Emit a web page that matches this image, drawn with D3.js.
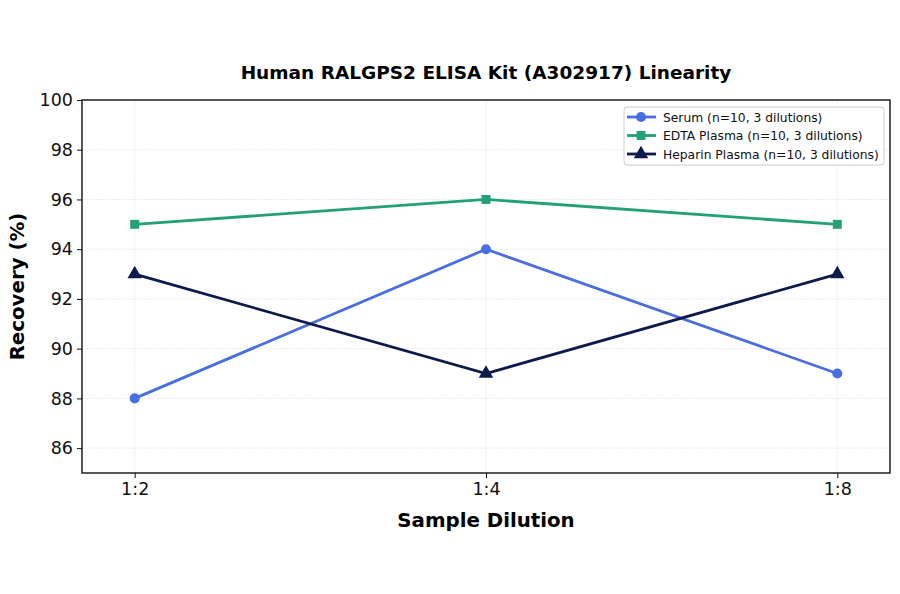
<!DOCTYPE html>
<html>
<head>
<meta charset="utf-8">
<title>Linearity</title>
<script src="https://d3js.org/d3.v7.min.js"></script>
<style>
  body { margin: 0; background: #fff; }
  text { font-family: "DejaVu Sans", sans-serif; }
</style>
</head>
<body>
<script>
// data
var dilutions = ["1:2", "1:4", "1:8"];
var serum = [88, 94, 89];
var edta = [95, 96, 95];
var heparin = [93, 89, 93];
var seriesNames = ["Serum (n=10, 3 dilutions)", "EDTA Plasma (n=10, 3 dilutions)", "Heparin Plasma (n=10, 3 dilutions)"];
var yTicks = [86, 88, 90, 92, 94, 96, 98, 100];

var width = 900, height = 594;
var m = {left: 82, right: 10, top: 100, bottom: 121};
var w = width - m.left - m.right;
var h = height - m.top - m.bottom;

var svg = d3.select("body").append("svg")
    .attr("width", width)
    .attr("height", height);

var g = svg.append("g").attr("transform", "translate(" + m.left + "," + m.top + ")");

var x = d3.scaleLinear().domain([-0.15, 2.15]).range([0, w]);
var y = d3.scaleLinear().domain([85, 100]).range([h, 0]);

// grid
g.selectAll(".hgrid").data(yTicks).enter().append("line")
    .attr("x1", 0).attr("x2", w)
    .attr("y1", function(d) { return y(d); })
    .attr("y2", function(d) { return y(d); })
    .attr("stroke", "#e4e4e4").attr("stroke-width", 0.8)
    .attr("stroke-dasharray", "1.5,0.8");
g.selectAll(".vgrid").data(dilutions).enter().append("line")
    .attr("x1", function(d, i) { return x(i); })
    .attr("x2", function(d, i) { return x(i); })
    .attr("y1", 0).attr("y2", h)
    .attr("stroke", "#e4e4e4").attr("stroke-width", 0.8)
    .attr("stroke-dasharray", "1.5,0.8");

// axes
var xAxis = g.append("g")
    .attr("transform", "translate(0," + h + ")")
    .call(d3.axisBottom(x).tickValues([0, 1, 2])
        .tickFormat(function(d) { return dilutions[d]; })
        .tickSize(5).tickPadding(5));
var yAxis = g.append("g")
    .call(d3.axisLeft(y).tickValues(yTicks).tickSize(5).tickPadding(4));
[xAxis, yAxis].forEach(function(a) {
    a.select(".domain").remove();
    a.selectAll("text").attr("font-size", "17.5px").attr("fill", "#111")
        .style("font-family", "DejaVu Sans, sans-serif");
    a.selectAll("line").attr("stroke", "#111");
});

// frame
g.append("rect").attr("width", w).attr("height", h)
    .attr("fill", "none").attr("stroke", "#111").attr("stroke-width", 1.4);

var series = [
    {name: seriesNames[0], values: serum, color: "#4a6ee0", shape: d3.symbolCircle},
    {name: seriesNames[1], values: edta, color: "#22a079", shape: d3.symbolSquare},
    {name: seriesNames[2], values: heparin, color: "#0d1b4c", shape: d3.symbolTriangle}
];

var line = d3.line()
    .x(function(d, i) { return x(i); })
    .y(function(d) { return y(d); });

function markSize(s) { return s.shape === d3.symbolTriangle ? 90 : 80; }

series.forEach(function(s) {
    g.append("path").datum(s.values)
        .attr("d", line)
        .attr("fill", "none")
        .attr("stroke", s.color)
        .attr("stroke-width", 2.8);
    g.selectAll(null).data(s.values).enter().append("path")
        .attr("d", d3.symbol().type(s.shape).size(markSize(s)))
        .attr("transform", function(d, i) { return "translate(" + x(i) + "," + y(d) + ")"; })
        .attr("fill", s.color);
});

// title and labels
svg.append("text")
    .attr("x", m.left + w / 2).attr("y", 79)
    .attr("text-anchor", "middle")
    .attr("font-size", "18.5px").attr("font-weight", "bold")
    .text("Human RALGPS2 ELISA Kit (A302917) Linearity");
svg.append("text")
    .attr("x", m.left + w / 2).attr("y", 527)
    .attr("text-anchor", "middle")
    .attr("font-size", "19.8px").attr("font-weight", "bold")
    .text("Sample Dilution");
svg.append("text")
    .attr("transform", "translate(24," + (m.top + h / 2) + ") rotate(-90)")
    .attr("text-anchor", "middle")
    .attr("font-size", "19.8px").attr("font-weight", "bold")
    .text("Recovery (%)");

// legend
var lg = svg.append("g").attr("transform", "translate(624,107)");
lg.append("rect").attr("width", 260).attr("height", 58).attr("rx", 3)
    .attr("fill", "#fff").attr("fill-opacity", 0.85)
    .attr("stroke", "#ccc").attr("stroke-width", 1);
series.forEach(function(s, i) {
    var yy = 10 + i * 18.5;
    lg.append("line").attr("x1", 3).attr("x2", 32).attr("y1", yy).attr("y2", yy)
        .attr("stroke", s.color).attr("stroke-width", 2.8);
    lg.append("path")
        .attr("d", d3.symbol().type(s.shape).size(markSize(s)))
        .attr("transform", "translate(17," + yy + ")")
        .attr("fill", s.color);
    lg.append("text").attr("x", 39).attr("y", yy + 4.5)
        .attr("font-size", "12.3px").attr("fill", "#111")
        .text(s.name);
});
</script>
</body>
</html>
